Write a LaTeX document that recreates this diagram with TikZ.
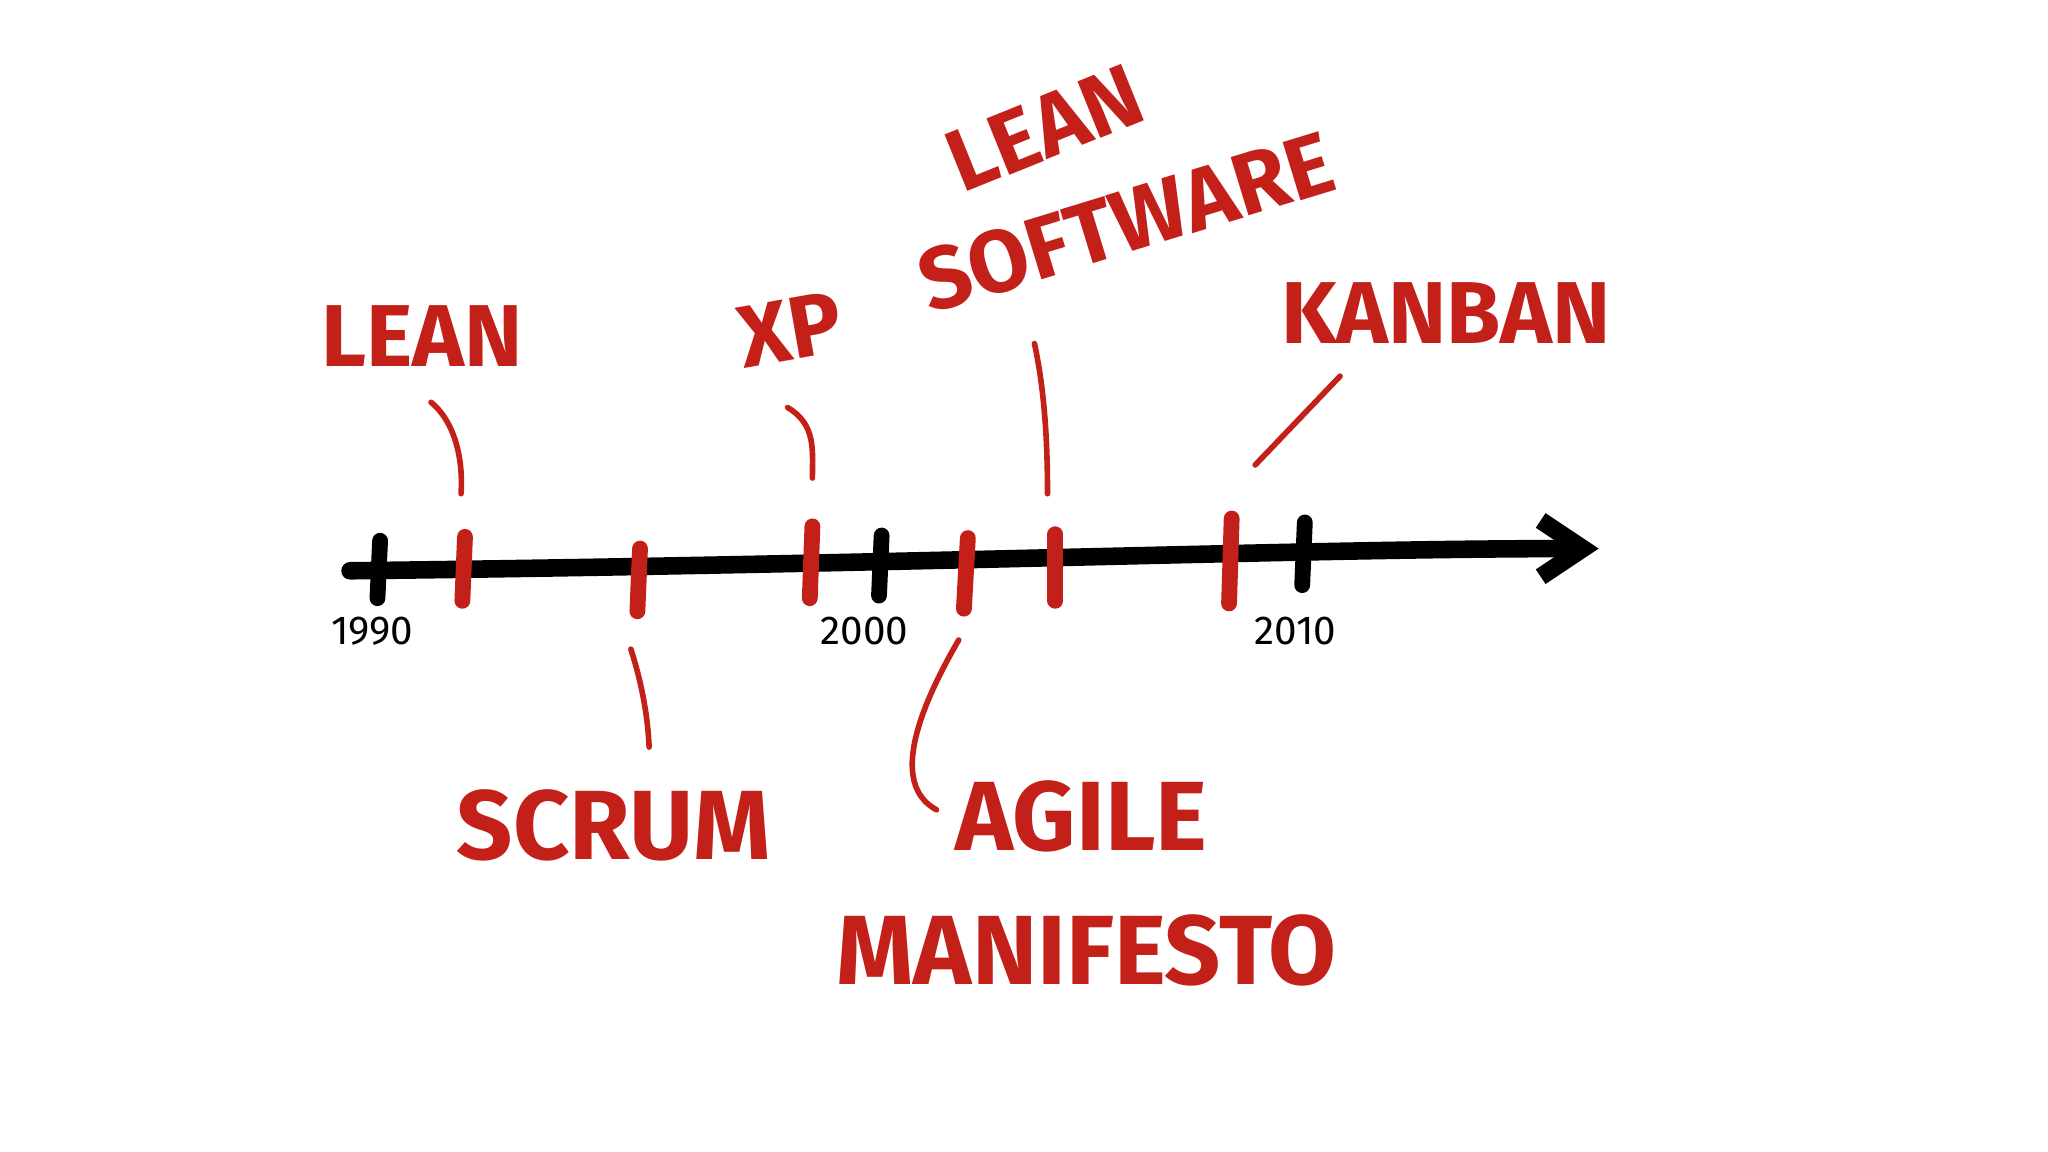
\documentclass[tikz,border=0pt]{standalone}
\usepackage{fontspec}
\setmainfont{Fira Sans}
\usetikzlibrary{arrows.meta}
\definecolor{mred}{HTML}{C4201A}
\begin{document}
\begin{tikzpicture}[x=0.013061cm,y=-0.013061cm,
  axis/.style={line width=5pt,black,line cap=round},
  btick/.style={line width=4.5pt,black,line cap=round},
  rtick/.style={line width=4.5pt,mred,line cap=round},
  lead/.style={line width=1.6pt,mred,line cap=round},
  big/.style={text=mred,font=\fontsize{25}{30}\selectfont\bfseries,inner sep=0pt},
  bigger/.style={big,font=\fontsize{28}{32}\selectfont\bfseries},
  yr/.style={text=black,font=\fontsize{11.5}{14}\selectfont,inner sep=0pt}]
\useasboundingbox (0,0) rectangle (1568,882);
\fill[white] (0,0) rectangle (1568,882);
% axis
\coordinate (a0) at (268,437);
\coordinate (a1) at (1224,420);
\draw[axis,-{Straight Barb[length=12pt,width=16pt,line width=5pt]}] (a0) .. controls (700,432) and (1000,420) .. (a1);
% black ticks
\draw[btick] (291,414) -- (289,458);
\draw[btick] (675,410) -- (673,456);
\draw[btick] (999,400) -- (997,448);
\node[yr] (y1990) at (285,483) {1990};
\node[yr] (y2000) at (662,483) {2000};
\node[yr] (y2010) at (992,483) {2010};
% red ticks
\draw[rtick] (356,411) -- (354,460);
\draw[rtick] (490,420) -- (488,468);
\draw[rtick] (622,403) -- (620,458);
\draw[rtick] (741,412) -- (738,466);
\draw[rtick] (808,409) -- (808,460);
\draw[rtick] (943,397) -- (941,462);
% labels
\node[big] (lean) at (323,257) {LEAN};
\node[big,rotate=10] (xp) at (605,252) {XP};
\node[big,rotate=22] (lean2) at (800,98) {LEAN};
\node[big,rotate=17] (soft) at (862,170) {SOFTWARE};
\node[big] (kanban) at (1107,240) {KANBAN};
\node[bigger] (scrum) at (470,632) {SCRUM};
\node[bigger] (agile) at (828,625) {AGILE};
\node[bigger] (manif) at (832,728) {MANIFESTO};
% leaders
\coordinate (l1) at (330,308); \coordinate (l1b) at (353,378);
\draw[lead] (l1) .. controls (345,320) and (355,345) .. (l1b);
\coordinate (x1) at (603,312); \coordinate (x1b) at (622,366);
\draw[lead] (x1) .. controls (625,325) and (622,345) .. (x1b);
\coordinate (s1) at (792,263); \coordinate (s1b) at (802,378);
\draw[lead] (s1) .. controls (800,300) and (802,340) .. (s1b);
\coordinate (k1) at (1026,288); \coordinate (k1b) at (961,356);
\draw[lead] (k1) -- (k1b);
\coordinate (c1) at (483,497); \coordinate (c1b) at (497,572);
\draw[lead] (c1) .. controls (492,525) and (496,550) .. (c1b);
\coordinate (g1) at (734,490); \coordinate (g1b) at (717,620);
\draw[lead] (g1) .. controls (705,540) and (680,600) .. (g1b);
\end{tikzpicture}
\end{document}
